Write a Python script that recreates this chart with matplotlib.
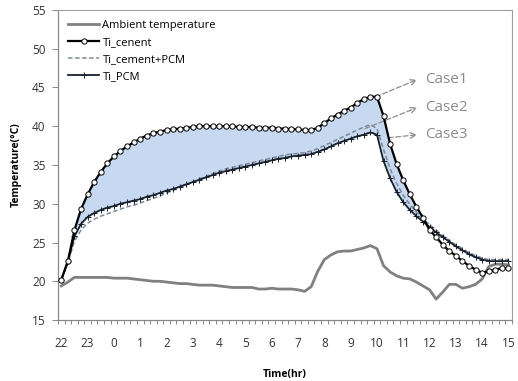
import numpy as np
import matplotlib
matplotlib.use("Agg")
import matplotlib.pyplot as plt

# --- data (15 min steps, 22:00 -> 15:00) ---
hour_labels = ["22", "23", "0", "1", "2", "3", "4", "5", "6", "7",
               "8", "9", "10", "11", "12", "13", "14", "15"]
steps_per_hour = 4

ambient = [19.4, 19.9, 20.5, 20.5, 20.5, 20.5, 20.5, 20.5, 20.4, 20.4,
           20.4, 20.3, 20.2, 20.1, 20.0, 20.0, 19.9, 19.8, 19.7, 19.7,
           19.6, 19.5, 19.5, 19.5, 19.4, 19.3, 19.2, 19.2, 19.2, 19.2,
           19.0, 19.0, 19.1, 19.0, 19.0, 19.0, 18.9, 18.7, 19.3, 21.3,
           22.8, 23.4, 23.8, 23.9, 23.9, 24.1, 24.3, 24.6, 24.2, 22.0,
           21.2, 20.7, 20.4, 20.3, 19.9, 19.4, 18.9, 17.7, 18.6, 19.6,
           19.6, 19.1, 19.3, 19.6, 20.3, 21.9, 22.2, 22.2, 22.1]

ti_cement = [20.2, 22.6, 26.6, 29.3, 31.2, 32.8, 34.1, 35.2, 36.1, 36.8,
             37.4, 37.9, 38.4, 38.8, 39.1, 39.3, 39.5, 39.6, 39.7, 39.8,
             39.9, 40.0, 40.0, 40.0, 40.0, 40.0, 40.0, 39.9, 39.9, 39.9,
             39.8, 39.8, 39.8, 39.7, 39.7, 39.6, 39.6, 39.5, 39.5, 39.8,
             40.4, 41.0, 41.5, 42.0, 42.4, 43.0, 43.5, 43.8, 43.8, 41.3,
             37.7, 35.1, 33.0, 31.2, 29.6, 28.2, 26.6, 25.7, 24.7, 23.9,
             23.3, 22.6, 22.0, 21.5, 21.1, 21.3, 21.5, 21.7, 21.7]

ti_cement_pcm = [20.2, 22.3, 25.2, 26.6, 27.5, 28.0, 28.4, 28.7, 29.0, 29.3,
                 29.6, 29.8, 30.1, 30.4, 30.7, 31.0, 31.4, 31.7, 32.1, 32.4,
                 32.8, 33.2, 33.5, 33.9, 34.2, 34.5, 34.7, 34.9, 35.1, 35.3,
                 35.5, 35.7, 35.9, 36.1, 36.3, 36.4, 36.5, 36.6, 36.8, 37.1,
                 37.5, 37.9, 38.3, 38.7, 39.1, 39.5, 39.9, 40.2, 39.7, 37.0,
                 34.5, 32.6, 31.1, 29.9, 28.9, 28.1, 27.3, 26.6, 25.9, 25.3,
                 24.7, 24.2, 23.7, 23.3, 23.0, 22.8, 22.8, 22.8, 22.8]

ti_pcm = [20.2, 22.6, 25.8, 27.4, 28.3, 28.8, 29.2, 29.5, 29.7, 30.0,
          30.2, 30.4, 30.6, 30.9, 31.1, 31.4, 31.7, 31.9, 32.2, 32.5,
          32.8, 33.1, 33.4, 33.7, 34.0, 34.2, 34.4, 34.6, 34.8, 35.0,
          35.2, 35.4, 35.6, 35.8, 35.9, 36.1, 36.2, 36.3, 36.4, 36.7,
          37.0, 37.4, 37.8, 38.1, 38.4, 38.7, 38.9, 39.2, 38.9, 35.5,
          33.3, 31.5, 30.2, 29.2, 28.4, 27.7, 27.0, 26.3, 25.7, 25.1,
          24.5, 24.0, 23.5, 23.1, 22.8, 22.6, 22.6, 22.6, 22.6]

case_labels = ["Case1", "Case2", "Case3"]
case_text_y = [46.0, 42.4, 38.9]

x = np.arange(len(ti_cement))
ti_c = np.array(ti_cement)
ti_p = np.array(ti_pcm)

plt.rcParams['font.family'] = ['Open Sans', 'DejaVu Sans']

fig = plt.figure(figsize=(5.18, 3.81), dpi=100)
ax = fig.add_axes([0.112, 0.160, 0.876, 0.814])

ax.fill_between(x, ti_p, ti_c, where=ti_c >= ti_p - 0.3, interpolate=True,
                color="#c6d9f1", lw=0, zorder=1)

ax.plot(x, ambient, color="#808080", lw=2.0, label="Ambient temperature", zorder=2)
ax.plot(x, ti_cement, color="black", lw=1.6, marker="o", ms=3.8,
        mfc="white", mec="black", mew=0.7, label="Ti_cenent", zorder=5)
ax.plot(x, ti_cement_pcm, color="#7d8898", lw=1.1, ls=(0, (3, 1.6)),
        label="Ti_cement+PCM", zorder=3)
ax.plot(x, ti_pcm, color="#18202c", lw=1.3, marker="+", ms=4, mew=0.7,
        label="Ti_PCM", zorder=4)

ax.set_xlim(-0.5, len(x) - 0.5)
ax.set_ylim(15, 55)
ax.set_yticks(np.arange(15, 56, 5))
ax.set_xticks(np.arange(0, len(x), steps_per_hour))
ax.set_xticklabels(hour_labels)
ax.set_xticks(np.arange(-0.5, len(x), 1), minor=True)
ax.tick_params(axis="x", which="major", length=0, pad=12, labelsize=8.5, colors="#333333")
ax.tick_params(axis="x", which="minor", length=3, width=0.7, color="#888888", direction="out")
ax.tick_params(axis="y", length=4, width=0.7, color="#888888", pad=5, labelsize=8.5, labelcolor="#333333")

for side in ["top", "right"]:
    ax.spines[side].set_color("#a0a0a0")
    ax.spines[side].set_linewidth(0.8)
for side in ["left", "bottom"]:
    ax.spines[side].set_color("#888888")
    ax.spines[side].set_linewidth(0.9)

ax.set_ylabel("Temperature(\u00b0C)", fontsize=7.5, fontweight="bold", labelpad=7)
ax.set_xlabel("Time(hr)", fontsize=7.5, fontweight="bold", labelpad=14)

leg = ax.legend(loc="upper left", frameon=False, fontsize=8, handlelength=2.8,
                labelspacing=0.55, borderaxespad=0.5, handletextpad=0.3)

# Case annotations: dashed arrows from each curve's peak to its label
starts = [(47.8, ti_cement[48]), (46.2, ti_cement_pcm[46] - 0.2), (49.7, 38.5)]
for lab, (sx, sy), ty in zip(case_labels, starts, case_text_y):
    ax.text(55.3, ty, lab, fontsize=11, color="#8c8c8c", va="center", ha="left")
    ax.annotate("", xy=(54.1, ty), xytext=(sx, sy),
                arrowprops=dict(arrowstyle="->", color="#8c8c8c", lw=0.9,
                                ls=(0, (4, 2)), shrinkA=0, shrinkB=0))

fig.savefig("out.png", dpi=100)
